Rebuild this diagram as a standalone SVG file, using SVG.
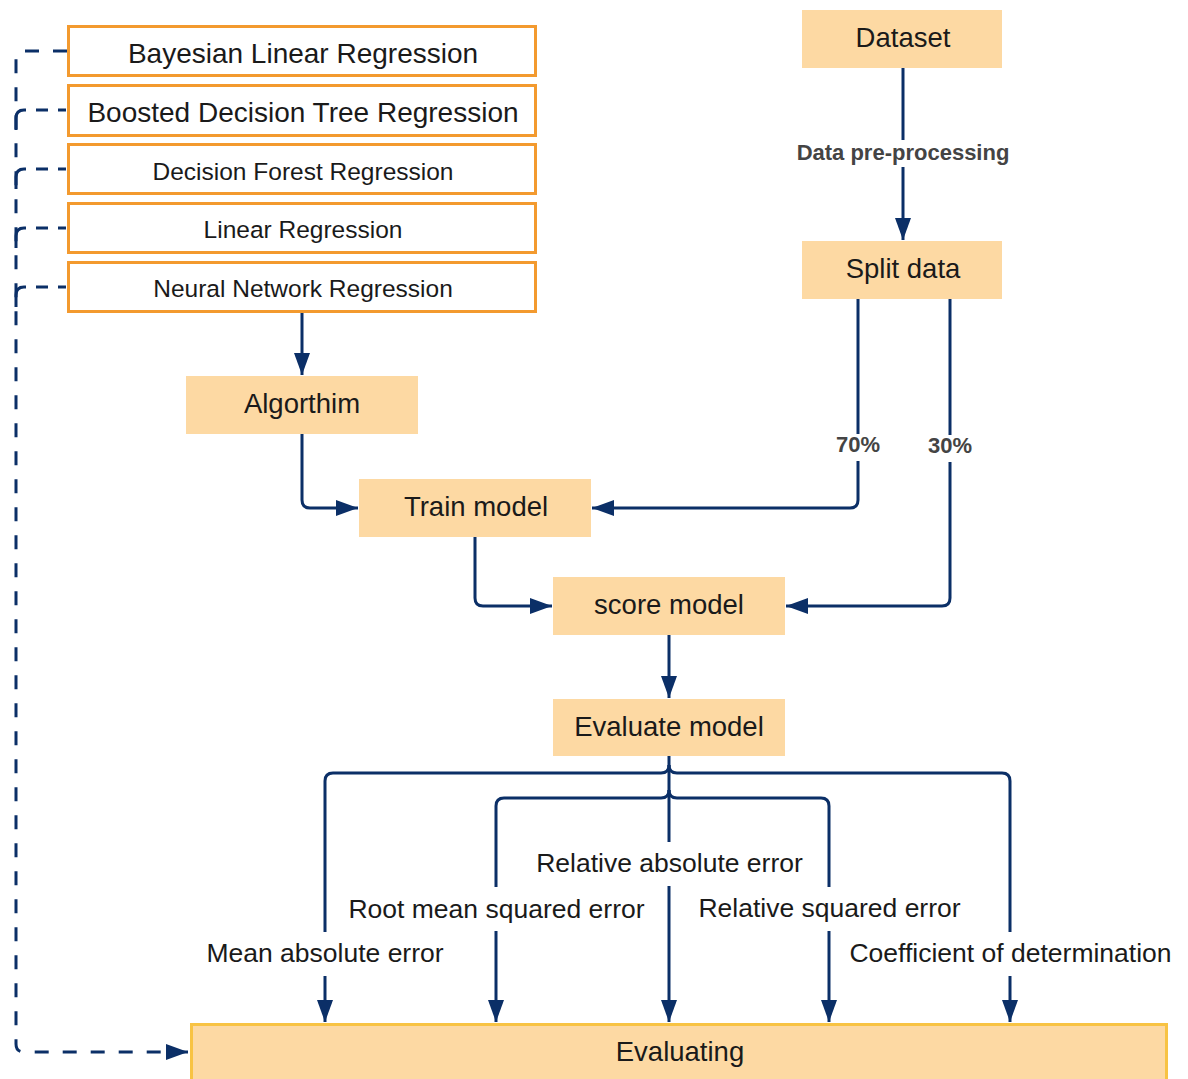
<svg xmlns="http://www.w3.org/2000/svg" width="1188" height="1079" viewBox="0 0 1188 1079">
  <style>
    .algo { fill: #ffffff; stroke: #f39a2f; stroke-width: 3; }
    .step { fill: #fdd9a3; }
    .final { fill: #fdd9a3; stroke: #f8c343; stroke-width: 3; }
    .lbl { font-family: "Liberation Sans", Arial, sans-serif; fill: #1a1a1a; text-anchor: middle; }
    .big { font-size: 27.5px; }
    .top { font-size: 28px; }
    .mid { font-size: 24.5px; }
    .metric { font-size: 26.5px; }
    .note { font-family: "Liberation Sans", Arial, sans-serif; font-weight: bold; font-size: 22px; fill: #444444; text-anchor: middle; }
    .flow { fill: none; stroke: #0b2f67; stroke-width: 3; }
    .dash { fill: none; stroke: #0b2f67; stroke-width: 3; stroke-dasharray: 14 14; }
  </style>
  <defs>
    <marker id="arrow" markerUnits="userSpaceOnUse" markerWidth="22" markerHeight="16" refX="22" refY="8" orient="auto">
      <path d="M0,0 L22,8 L0,16 z" fill="#0b2f67"/>
    </marker>
  </defs>

  <!-- connectors -->
  <g id="connectors">
    <!-- algorithm list back to the evaluation bar -->
    <path class="dash" d="M67,51 H24 Q16,51 16,59 V1044 Q16,1052 24,1052 H188" marker-end="url(#arrow)"/>
    <path class="dash" style="stroke-dasharray: 8 10 12 10 30" d="M66,110 H24 Q16,110 16,118 V130"/>
    <path class="dash" style="stroke-dasharray: 8 10 12 10 30" d="M66,169 H24 Q16,169 16,177 V189"/>
    <path class="dash" style="stroke-dasharray: 8 10 12 10 30" d="M66,228 H24 Q16,228 16,236 V248"/>
    <path class="dash" style="stroke-dasharray: 8 10 12 10 30" d="M66,287 H24 Q16,287 16,295 V307"/>

    <!-- dataset to split -->
    <path class="flow" d="M903,68 V140"/>
    <path class="flow" d="M903,167 V240" marker-end="url(#arrow)"/>

    <!-- split branches -->
    <path class="flow" d="M858,299 V434"/>
    <path class="flow" d="M858,461 V500 Q858,508 850,508 H592" marker-end="url(#arrow)"/>
    <path class="flow" d="M950,299 V435"/>
    <path class="flow" d="M950,462 V598 Q950,606 942,606 H786" marker-end="url(#arrow)"/>

    <!-- main pipeline -->
    <path class="flow" d="M302,312 V375" marker-end="url(#arrow)"/>
    <path class="flow" d="M302,434 V500 Q302,508 310,508 H358" marker-end="url(#arrow)"/>
    <path class="flow" d="M475,537 V598 Q475,606 483,606 H552" marker-end="url(#arrow)"/>
    <path class="flow" d="M669,635 V698" marker-end="url(#arrow)"/>

    <!-- metric fan-out -->
    <path class="flow" d="M669,756 V842"/>
    <path class="flow" d="M669,765 Q669,773 661,773 H333 Q325,773 325,781 V932"/>
    <path class="flow" d="M669,765 Q669,773 677,773 H1002 Q1010,773 1010,781 V932"/>
    <path class="flow" d="M669,790 Q669,798 661,798 H504 Q496,798 496,806 V887"/>
    <path class="flow" d="M669,790 Q669,798 677,798 H821 Q829,798 829,806 V887"/>
    <path class="flow" d="M325,976 V1022" marker-end="url(#arrow)"/>
    <path class="flow" d="M496,931 V1022" marker-end="url(#arrow)"/>
    <path class="flow" d="M669,886 V1022" marker-end="url(#arrow)"/>
    <path class="flow" d="M829,931 V1022" marker-end="url(#arrow)"/>
    <path class="flow" d="M1010,976 V1022" marker-end="url(#arrow)"/>

    <!-- connector labels -->
    <text class="note" x="903" y="160">Data pre-processing</text>
    <text class="note" x="858" y="452">70%</text>
    <text class="note" x="950" y="453">30%</text>
    <text class="lbl metric" x="669.5" y="872">Relative absolute error</text>
    <text class="lbl metric" x="496.5" y="918">Root mean squared error</text>
    <text class="lbl metric" x="829.5" y="917">Relative squared error</text>
    <text class="lbl metric" x="325" y="962">Mean absolute error</text>
    <text class="lbl metric" x="1010.5" y="962">Coefficient of determination</text>
  </g>

  <!-- algorithm list -->
  <g id="bayesian">
    <rect class="algo" x="68.5" y="26.5" width="467" height="49"/>
    <text class="lbl top" x="303" y="63">Bayesian Linear Regression</text>
  </g>
  <g id="boosted">
    <rect class="algo" x="68.5" y="85.5" width="467" height="50"/>
    <text class="lbl top" x="303" y="122">Boosted Decision Tree Regression</text>
  </g>
  <g id="forest">
    <rect class="algo" x="68.5" y="144.5" width="467" height="49"/>
    <text class="lbl mid" x="303" y="179.5">Decision Forest Regression</text>
  </g>
  <g id="linear">
    <rect class="algo" x="68.5" y="203.5" width="467" height="49"/>
    <text class="lbl mid" x="303" y="237.5">Linear Regression</text>
  </g>
  <g id="neural">
    <rect class="algo" x="68.5" y="262.5" width="467" height="49"/>
    <text class="lbl mid" x="303" y="297">Neural Network Regression</text>
  </g>

  <!-- pipeline steps -->
  <g id="dataset">
    <rect class="step" x="802" y="10" width="200" height="58"/>
    <text class="lbl big" x="903" y="47">Dataset</text>
  </g>
  <g id="split">
    <rect class="step" x="802" y="241" width="200" height="58"/>
    <text class="lbl big" x="903" y="278">Split data</text>
  </g>
  <g id="algorithm">
    <rect class="step" x="186" y="376" width="232" height="58"/>
    <text class="lbl big" x="302" y="413">Algorthim</text>
  </g>
  <g id="train">
    <rect class="step" x="359" y="479" width="232" height="58"/>
    <text class="lbl big" x="476" y="516">Train model</text>
  </g>
  <g id="score">
    <rect class="step" x="553" y="577" width="232" height="58"/>
    <text class="lbl big" x="669" y="614">score model</text>
  </g>
  <g id="evaluate">
    <rect class="step" x="553" y="699" width="232" height="57"/>
    <text class="lbl big" x="669" y="736">Evaluate model</text>
  </g>
  <g id="evaluating">
    <rect class="final" x="191.5" y="1024.5" width="975" height="70"/>
    <text class="lbl big" x="680" y="1061">Evaluating</text>
  </g>
</svg>
